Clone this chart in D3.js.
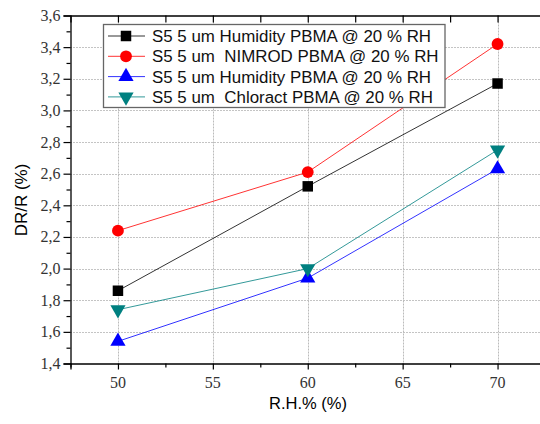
<!DOCTYPE html>
<html><head><meta charset="utf-8">
<script src="https://cdn.jsdelivr.net/npm/d3@7"></script>
<style>
body{margin:0;background:#fff;}
svg{display:block;}
text{white-space:pre;}
</style></head>
<body>
<svg id="chart" width="540" height="424"></svg>
<script>
const xValues = [50, 60, 70];
const seriesNames = [
  "S5 5 um Humidity PBMA @ 20 % RH",
  "S5 5 um  NIMROD PBMA @ 20 % RH",
  "S5 5 um Humidity PBMA @ 20 % RH",
  "S5 5 um  Chloract PBMA @ 20 % RH"
];
const blackValues = [1.86, 2.52, 3.17];
const redValues = [2.24, 2.61, 3.42];
const blueValues = [1.54, 1.94, 2.63];
const tealValues = [1.74, 2.00, 2.75];
const seriesColors = ["#000000", "#ff0000", "#0000ff", "#008080"];
const seriesMarkers = ["square", "circle", "triangleUp", "triangleDown"];
const xTicks = [50, 55, 60, 65, 70];
const yTicks = [1.4, 1.6, 1.8, 2.0, 2.2, 2.4, 2.6, 2.8, 3.0, 3.2, 3.4, 3.6];
const yTickLabels = ["1,4", "1,6", "1,8", "2,0", "2,2", "2,4", "2,6", "2,8", "3,0", "3,2", "3,4", "3,6"];
const xLabel = "R.H.% (%)";
const yLabel = "DR/R (%)";

const series = [blackValues, redValues, blueValues, tealValues].map((vals, i) => ({
  name: seriesNames[i], color: seriesColors[i], marker: seriesMarkers[i],
  points: vals.map((v, j) => ({x: xValues[j], y: v}))
}));

const svg = d3.select("#chart");
const L = 70.5, T = 15.5, B = 363.5;
const x = d3.scaleLinear().domain([47.5, 72.5]).range([L, L + 474.5]);
const y = d3.scaleLinear().domain([1.4, 3.6]).range([B, T]);

// grid
const grid = svg.append("g");
grid.selectAll("line.h").data(yTicks.slice(1, -1)).enter().append("line")
  .attr("x1", L).attr("x2", 540).attr("y1", d => Math.round(y(d)) + 0.5).attr("y2", d => Math.round(y(d)) + 0.5)
  .attr("stroke", "#888").attr("stroke-width", 1).attr("stroke-dasharray", "1,2");
grid.selectAll("line.v").data(xTicks).enter().append("line")
  .attr("y1", T).attr("y2", B).attr("x1", d => Math.round(x(d)) + 0.5).attr("x2", d => Math.round(x(d)) + 0.5)
  .attr("stroke", "#bbb").attr("stroke-width", 1).attr("stroke-dasharray", "2,1");

// axes (ticks only; labels drawn separately)
const serifFam = "Liberation Serif, DejaVu Serif, serif";
const yAxis = d3.axisLeft(y).tickValues(yTicks).tickFormat("").tickSize(7);
svg.append("g").attr("transform", `translate(${L},0)`).call(yAxis);
const yMinor = d3.axisLeft(y).tickValues(d3.range(1.5, 3.6, 0.2)).tickFormat("").tickSize(4);
svg.append("g").attr("transform", `translate(${L},0)`).call(yMinor).select(".domain").remove();

const xAxis = d3.axisBottom(x).tickValues(xTicks).tickFormat("").tickSize(6);
svg.append("g").attr("transform", `translate(0,${B})`).call(xAxis);
const xMinor = d3.axisBottom(x).tickValues([47.5, 52.5, 57.5, 62.5, 67.5]).tickFormat("").tickSize(4);
svg.append("g").attr("transform", `translate(0,${B})`).call(xMinor).select(".domain").remove();

const xTop = d3.axisTop(x).tickValues([50, 52.5, 55, 57.5, 60, 62.5, 65, 67.5, 70]).tickFormat("").tickSize(-7);
svg.append("g").attr("transform", `translate(0,${T})`).call(xTop);

svg.selectAll(".domain").attr("stroke", "#000").attr("stroke-width", 1.3);
svg.selectAll(".tick line").attr("stroke", "#000").attr("stroke-width", 1.2);

// tick labels
svg.append("g").selectAll("text").data(yTicks).enter().append("text")
  .attr("x", L - 10).attr("y", d => y(d) + 5.5).attr("text-anchor", "end")
  .attr("font-family", serifFam).attr("font-size", 16).attr("fill", "#333")
  .text((d, i) => yTickLabels[i]);
svg.append("g").selectAll("text").data(xTicks).enter().append("text")
  .attr("x", d => x(d)).attr("y", B + 24).attr("text-anchor", "middle")
  .attr("font-family", serifFam).attr("font-size", 16).attr("fill", "#333")
  .text(d => d);

// axis labels
svg.append("text").attr("x", 308).attr("y", 409).attr("text-anchor", "middle")
  .attr("font-family", "Liberation Sans, Arial, sans-serif").attr("font-size", 16.5).text(xLabel);
svg.append("text").attr("transform", "translate(27,200) rotate(-90)").attr("text-anchor", "middle")
  .attr("font-family", "Liberation Sans, Arial, sans-serif").attr("font-size", 17).text(yLabel);

// marker paths
function markerPath(type) {
  if (type === "square") return d3.symbol(d3.symbolSquare, 110)();
  if (type === "circle") return d3.symbol(d3.symbolCircle, 110)();
  return d3.symbol(d3.symbolTriangle, 100)();
}

const line = d3.line().x(d => x(d.x)).y(d => y(d.y));
const plot = svg.append("g");
series.forEach(s => {
  plot.append("path").attr("d", line(s.points)).attr("fill", "none")
    .attr("stroke", s.color).attr("stroke-width", 1).attr("opacity", 0.8);
});
series.forEach(s => {
  plot.selectAll(null).data(s.points).enter().append("path")
    .attr("d", markerPath(s.marker))
    .attr("transform", d => `translate(${x(d.x)},${y(d.y)})` + (s.marker === "triangleDown" ? " rotate(180)" : ""))
    .attr("fill", s.color);
});

// legend
const lg = svg.append("g");
lg.append("rect").attr("x", 103.5).attr("y", 24.5).attr("width", 341.5).attr("height", 83)
  .attr("fill", "#fff").attr("stroke", "#666").attr("stroke-width", 1.3);
series.forEach((s, i) => {
  const cy = 36 + i * 20.3;
  lg.append("line").attr("x1", 108).attr("x2", 145).attr("y1", cy).attr("y2", cy)
    .attr("stroke", s.color).attr("stroke-width", 1).attr("opacity", 0.8);
  lg.append("path").attr("d", markerPath(s.marker))
    .attr("transform", `translate(126,${cy})` + (s.marker === "triangleDown" ? " rotate(180)" : ""))
    .attr("fill", s.color);
  lg.append("text").attr("x", 152).attr("y", cy + 6)
    .attr("font-family", "Liberation Sans, Arial, sans-serif").attr("font-size", 16.9)
    .attr("fill", "#111").text(s.name);
});
</script>
</body></html>
